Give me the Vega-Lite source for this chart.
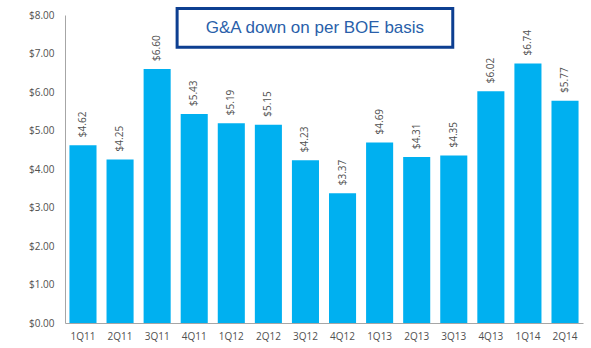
{
  "$schema": "https://vega.github.io/schema/vega-lite/v6.json",
  "autosize": {"type": "none"},
  "width": 518,
  "height": 308,
  "padding": {"left": 65, "top": 15, "right": 8, "bottom": 25},
  "background": "white",
  "config": {"view": {"stroke": null}},
  "datasets": {
    "bars": [
      {"q": "1Q11", "v": 4.62}, {"q": "2Q11", "v": 4.25}, {"q": "3Q11", "v": 6.60},
      {"q": "4Q11", "v": 5.43}, {"q": "1Q12", "v": 5.19}, {"q": "2Q12", "v": 5.15},
      {"q": "3Q12", "v": 4.23}, {"q": "4Q12", "v": 3.37}, {"q": "1Q13", "v": 4.69},
      {"q": "2Q13", "v": 4.31}, {"q": "3Q13", "v": 4.35}, {"q": "4Q13", "v": 6.02},
      {"q": "1Q14", "v": 6.74}, {"q": "2Q14", "v": 5.77}
    ],
    "box": [
      {"x1": 3.03, "x2": 10.48, "y1": 7.16, "y2": 8.17, "xm": 6.755, "ym": 7.665, "label": "G&A down on per BOE basis"}
    ]
  },
  "layer": [
    {
      "data": {"name": "bars"},
      "encoding": {
        "x": {"field": "q", "type": "nominal", "sort": null,
          "scale": {"paddingInner": 0.27, "paddingOuter": 0.12},
          "axis": {"title": null, "labelAngle": 0, "ticks": false, "domainColor": "#A6A6A6",
            "labelColor": "#505050", "labelFont": "Open Sans", "labelFontSize": 10, "labelPadding": 8}},
        "y": {"field": "v", "type": "quantitative",
          "scale": {"domain": [0, 8], "nice": false},
          "axis": {"title": null, "values": [0,1,2,3,4,5,6,7,8], "labelOverlap": false, "labelFlush": false, "format": "$.2f", "grid": false,
            "ticks": false, "domainColor": "#A6A6A6", "labelColor": "#505050",
            "labelFont": "Open Sans", "labelFontSize": 10, "labelPadding": 11}}
      },
      "layer": [
        {
          "mark": {"type": "bar", "color": "#00B0F0"}
        },
        {
          "mark": {"type": "text", "angle": 270, "align": "left", "baseline": "middle", "dx": 8,
            "font": "Open Sans", "fontSize": 10, "color": "#505050"},
          "encoding": {
            "text": {"field": "v", "type": "quantitative", "format": "$.2f"}
          }
        }
      ]
    },
    {
      "data": {"name": "box"},
      "layer": [
        {
          "mark": {"type": "rect", "fill": "white", "stroke": "#0D3F91", "strokeWidth": 3},
          "encoding": {
            "x": {"field": "x1", "type": "quantitative", "scale": {"domain": [0, 14], "nice": false}, "axis": null},
            "x2": {"field": "x2"},
            "y": {"field": "y1", "type": "quantitative", "scale": {"domain": [0, 8], "nice": false}, "axis": null},
            "y2": {"field": "y2"}
          }
        },
        {
          "mark": {"type": "text", "font": "Liberation Sans", "fontSize": 17, "color": "#2A5FAA", "align": "center", "baseline": "middle"},
          "encoding": {
            "x": {"field": "xm", "type": "quantitative", "scale": {"domain": [0, 14], "nice": false}, "axis": null},
            "y": {"field": "ym", "type": "quantitative", "scale": {"domain": [0, 8], "nice": false}, "axis": null},
            "text": {"field": "label"}
          }
        }
      ]
    }
  ],
  "resolve": {"scale": {"x": "independent", "y": "independent"}, "axis": {"x": "independent", "y": "independent"}}
}
